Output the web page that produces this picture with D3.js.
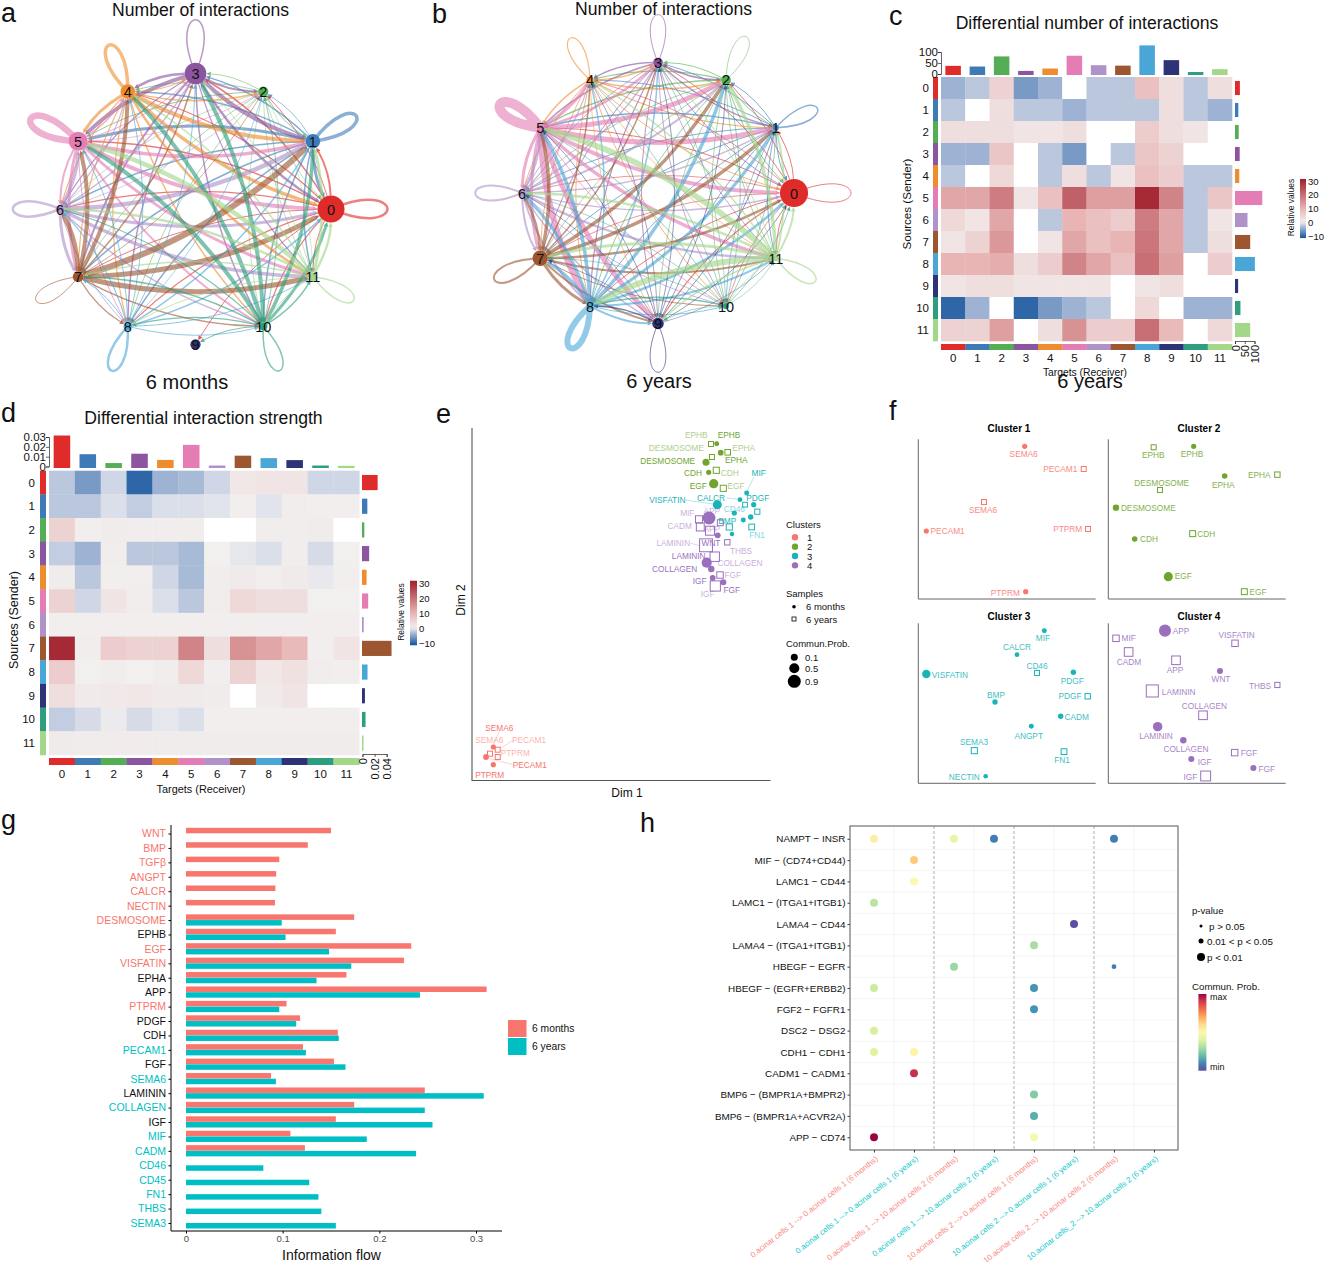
<!DOCTYPE html>
<html><head><meta charset="utf-8">
<script src="https://cdn.jsdelivr.net/npm/d3@7/dist/d3.min.js"></script>
<style>html,body{margin:0;padding:0;background:#fff}svg{display:block}text{font-family:"Liberation Sans",Arial,sans-serif;fill:#111}</style>
</head><body>
<svg id="fig" width="1331" height="1262"></svg>
<script>
// ---------- shared categories ----------
const cellTypes = ["0","1","2","3","4","5","6","7","8","9","10","11"];
const cellColors = ["#E02B2B","#3E7BB6","#55AE55","#8B559F","#EE8D2E","#E47DB4","#AF92C8","#9C5731","#4BA6D8","#2E3378","#2E9E7E","#A3D78A"];

// ---------- panels a, b : interaction weights (row = sender, col = receiver) ----------
const weightsA = [
 [2.5,2,1,1.5,1.2,1.5,1.2,1,1.2,1,1.2,1],
 [3,3.5,.8,1.5,1.5,3,1.5,1.5,1.5,0,1.5,1.5],
 [.6,1,0,.8,.8,1,.6,.8,.8,0,.6,.6],
 [2.5,4,2,1.5,2.5,4,1.2,2,1.5,0,1.5,1.2],
 [3.5,4,1.5,1,3.5,3,1.2,1.2,1.2,0,1.5,2.5],
 [4,3.5,.8,1,1.5,6.5,2,3,1,0,2,3],
 [3,4.5,.8,1.5,1.2,3.5,2.5,3,1,0,1.5,3.5],
 [5,6,.8,1.5,4,4,4.5,1,1.2,0,1.5,5],
 [1.5,1.5,.8,1,1,1,1.2,1,2.5,0,1,1],
 [0,0,0,0,0,0,0,0,0,0,0,0],
 [3,3.5,.8,4,4,4,1.2,1.5,1.2,1,1.5,1.5],
 [2.5,3,.8,1,1.5,4.5,2.5,1.5,1,0,1,1.5]];
const weightsB = [
 [1,1,1,1,.8,1,.8,.8,1,1.2,.8,1],
 [1,1.5,1,1,1,1.5,1,1,1,1,.8,1],
 [1,1,.8,1,1.2,1.5,.8,.8,1,.8,.8,.8],
 [1,1.5,1.5,1,1.5,1.5,.8,1,1.2,1,.8,.8],
 [1,1.2,1.5,1.2,1.2,1.5,1,1,1,.8,1,.8],
 [4,5,5,2.5,3,10,3,3,6,5,1,3.5],
 [1.5,1.5,2,1.5,1.2,3,2,2,2,1.5,1,2.5],
 [2.5,3.5,3.5,1.5,1.5,3.5,2.5,2,3,2,1,2],
 [2.5,3,3.5,1.5,1.5,3.5,3,3,6,2,1,2],
 [.8,.8,.8,.8,.7,.8,.7,.7,1.5,1,0,.6],
 [.8,.8,.8,.7,.7,.8,.7,.7,1.5,.7,0,.6],
 [2,2,3.5,1,1.5,6,2.5,3,6,1.5,.8,1.5]];
const nodeSizeA = [100,54,38,80,54,70,31,40,31,38,31,31];
const nodeSizeB = [104,22,36,36,25,25,28,57,25,43,22,22];

// ---------- panel c : differential number ----------
const diffNumber = [
 [-4,-2.5,5,-6,-4,null,-2.5,-2.5,8,3,-2.5,3],
 [-2.5,null,3,-2.5,-2.5,-4,-2.5,-2.5,-2.5,3,-2.5,-4],
 [3,3,3,2,2,3,null,null,6,3,2,null],
 [-4,-4,7,null,-2.5,-6,null,-2.5,7,5,null,null],
 [-2.5,null,4,null,-2.5,3,-2.5,2,8,6,-2.5,-2.5],
 [12,12,18,2,8,22,13,13,30,17,-2.5,7],
 [4,2,12,null,-2.5,10,8,6,18,12,-2.5,2],
 [2,5,14,null,2,12,8,10,19,12,-2.5,3],
 [10,10,11,3,6,17,12,8,20,13,null,6],
 [2,3,3,2,2,2,2,null,2,3,null,null],
 [-10,-4,null,-10,-6,-4,-2.5,null,4,null,-4,-4],
 [5,5,13,null,3,15,6,6,20,9,null,4]];
const numberTop = [37,34,80,14,25,83,40,38,130,63,9,22];
const numberRight = [25,17,19,24,22,140,64,78,102,16,28,78];

// ---------- panel d : differential strength ----------
const diffStrength = [
 [-2.5,-6,-1.5,-10,-4,-3.5,-1.5,1.5,2,2,-1.5,-1.5],
 [-2.5,-2.5,-1,-2,-1,-1,-.7,.3,-.7,.5,.3,.3],
 [5,.4,.7,.5,.5,.5,null,null,.5,.5,.7,null],
 [-2,-4,.5,-2.5,-2.5,-3.5,.2,-.5,-1,.5,-1.2,.2],
 [.7,-2.5,.4,.4,-1.5,-3.5,.5,1,.4,1,-.4,.3],
 [5,-1.5,2,.5,-1,-2.5,.5,4,3,3,.2,.1],
 [.4,.3,.4,.4,.4,.4,.4,.4,.4,.4,.4,.4],
 [30,.5,6,5,5,17,3,15,12,9,.3,2],
 [6,.2,.5,.2,.5,4,.3,5,1.5,2.5,.5,.3],
 [3,1,1.2,1.5,1,1,.7,null,1,2,null,null],
 [-2,-1.2,-.3,-1.2,-.5,-1,.3,.3,.3,.3,.3,.3],
 [1,.7,.8,.8,.6,.6,.6,.6,.6,.6,.6,.6]];
const strengthTop = [.0315,.0125,.0035,.013,.0067,.022,.001,.011,.0085,.0065,.001,.0007];
const strengthRight = [.025,.008,.003,.011,.0067,.0094,.002,.048,.0083,.004,.005,.0017];

// ---------- panel e : [signaling, cluster, sample(m/y), prob, dim1, dim2] ----------
const ePoints = [
 ["SEMA6",1,"m",.13,21.3,33],["PECAM1",1,"m",.16,14,23],["PTPRM",1,"m",.13,21.3,15.3],
 ["PECAM1",1,"y",.12,25.7,30.3],["SEMA6",1,"y",.12,18,26.3],["PTPRM",1,"y",.12,25.7,23],
 ["EPHB",2,"m",.12,244.7,336.3],["EPHA",2,"m",.16,248.7,327.3],["DESMOSOME",2,"m",.24,234,317.7],["CDH",2,"m",.13,236.7,307.7],["EGF",2,"m",.42,241.7,296.3],
 ["EPHB",2,"y",.12,239,336],["EPHA",2,"y",.15,255.7,327.7],["DESMOSOME",2,"y",.12,240,323],["CDH",2,"y",.18,244.3,309.7],["EGF",2,"y",.18,251.3,291.7],
 ["VISFATIN",3,"m",.39,245.3,275.3],["MIF",3,"m",.12,274.7,287],["CALCR",3,"m",.11,268,280.3],["PDGF",3,"m",.13,281.7,275.3],["BMP",3,"m",.13,262.3,267],["CADM",3,"m",.14,278.7,263],["ANGPT",3,"m",.12,271.3,260],["NECTIN",3,"m",.1,260,246],
 ["CD46",3,"y",.11,273,275.3],["PDGF",3,"y",.13,285.3,268.3],["FN1",3,"y",.16,279.7,253],["SEMA3",3,"y",.18,257.3,253],
 ["APP",4,"m",.8,237,262],["WNT",4,"m",.16,245.7,244.7],["LAMININ",4,"m",.5,234.7,217.3],["COLLAGEN",4,"m",.2,239.3,211],["IGF",4,"m",.16,240.7,202],["FGF",4,"m",.18,251.3,197.7],
 ["MIF",4,"y",.24,227,260.7],["CADM",4,"y",.3,228.3,253],["APP",4,"y",.39,238,249.3],["VISFATIN",4,"y",.17,248.3,257.3],["LAMININ",4,"y",.8,234,234.7],["THBS",4,"y",.14,255.3,237.7],["COLLAGEN",4,"y",.43,242.7,223.3],["FGF",4,"y",.2,248,205],["IGF",4,"y",.5,243.3,194]];
// e labels: [text, cluster, faded, dim1, dim2]
const eLabels = [
 ["EPHB",2,1,224.3,344.7],["EPHB",2,0,257,345],["EPHA",2,1,271.7,332.3],["EPHA",2,0,264.3,320],["DESMOSOME",2,1,204.3,331.7],["DESMOSOME",2,0,195.7,319.3],["CDH",2,0,221,307.3],["CDH",2,1,257.7,307.3],["EGF",2,0,226.3,294.3],["EGF",2,1,264,294.3],
 ["VISFATIN",3,0,195.3,280],["CALCR",3,0,239,282],["MIF",3,0,286.7,307.3],["PDGF",3,0,285.7,281.7],["CD46",3,1,262.3,270.7],["BMP",3,0,255.3,259],["FN1",3,1,285,245],
 ["MIF",4,1,215.3,267.3],["CADM",4,1,207.7,254.3],["APP",4,1,239.7,269.3],["APP",4,1,239.7,251],["WNT",4,0,239,237.3],["LAMININ",4,1,201.3,236.7],["LAMININ",4,0,216.7,224],["COLLAGEN",4,0,202.7,211],["COLLAGEN",4,1,268,217],["THBS",4,1,269,229.3],["IGF",4,0,227.7,198.7],["IGF",4,1,235.7,186.3],["FGF",4,1,260.7,204.7],["FGF",4,0,259.7,190],
 ["SEMA6",1,0,27.3,52],["SEMA6",1,1,17.3,39.7],["PECAM1",1,1,57,39.7],["PTPRM",1,1,43.3,27],["PECAM1",1,0,57.7,14.7],["PTPRM",1,0,17.7,5]];
const eLeaders = [[3,213,280,245,275.5],[3,255,282,267,280.5],[3,282,303,275,289],[4,218.7,236.7,228,234.3],[1,27.3,48.3,21.3,35],[1,40.7,39.7,28,31],[1,41.3,15.3,16.3,21.7]];
const clusterNames = ["1","2","3","4"];
const clusterColors = ["#F8766D","#6FA52F","#19B4B8","#9A6FBE"];

// ---------- panel f : [signaling, sample, prob, dim1, dim2] in each cluster embedding ----------
const fCluster1 = [["SEMA6","m",.13,404,139],["PECAM1","m",.13,109,393],["PTPRM","m",.13,407,575],["PECAM1","y",.12,581,207],["SEMA6","y",.12,282,306],["PTPRM","y",.12,594,387]];
const fCluster2 = [["EPHB","m",.13,911,139],["EPHA","m",.15,1004,228],["DESMOSOME","m",.2,678,323],["CDH","m",.15,734,417],["EGF","m",.4,835,530],["EPHB","y",.12,791,142],["EPHA","y",.14,1162,224],["DESMOSOME","y",.12,810,270],["CDH","y",.17,908,401],["EGF","y",.17,1063,575]];
const fCluster3 = [["MIF","m",.12,463,692],["CALCR","m",.11,381,764],["VISFATIN","m",.34,109,822],["PDGF","m",.14,550,817],["BMP","m",.14,315,906],["CADM","m",.14,512,949],["ANGPT","m",.12,424,979],["NECTIN","m",.1,287,1129],["CD46","y",.12,441,819],["PDGF","y",.14,593,889],["SEMA3","y",.18,253,1052],["FN1","y",.16,522,1055]];
const fCluster4 = [["APP","m",.7,825,692],["WNT","m",.18,990,813],["LAMININ","m",.43,803,980],["COLLAGEN","m",.2,880,1021],["IGF","m",.18,904,1077],["FGF","m",.18,1090,1104],["MIF","y",.2,678,715],["CADM","y",.36,716,756],["VISFATIN","y",.2,1035,730],["APP","y",.36,858,781],["THBS","y",.13,1162,855],["LAMININ","y",.7,787,873],["COLLAGEN","y",.36,939,946],["FGF","y",.2,1034,1058],["IGF","y",.47,947,1128]];
const fLabels1 = [["SEMA6",401,162],["PECAM1",511,207],["SEMA6",279,329],["PECAM1",173,393],["PTPRM",533,388],["PTPRM",346,579]];
const fLabels2 = [["EPHB",790,166],["EPHB",906,162],["DESMOSOME",815,248],["EPHA",1108,226],["EPHA",1000,254],["DESMOSOME",775,323],["CDH",777,418],["CDH",949,402],["EGF",880,529],["EGF",1104,575]];
const fLabels3 = [["MIF",459,715],["CALCR",381,741],["CD46",441,797],["VISFATIN",180,826],["PDGF",547,842],["PDGF",540,889],["BMP",318,884],["CADM",560,952],["ANGPT",416,1008],["SEMA3",252,1026],["FN1",516,1081],["NECTIN",223,1132]];
const fLabels4 = [["APP",873,694],["MIF",716,714],["VISFATIN",1040,706],["CADM",717,786],["APP",855,811],["WNT",993,838],["LAMININ",866,876],["THBS",1110,857],["COLLAGEN",943,918],["LAMININ",798,1007],["COLLAGEN",888,1047],["FGF",1077,1058],["IGF",944,1085],["FGF",1130,1106],["IGF",901,1132]];

// ---------- panel g ----------
const flowNames = ["WNT","BMP","TGFβ","ANGPT","CALCR","NECTIN","DESMOSOME","EPHB","EGF","VISFATIN","EPHA","APP","PTPRM","PDGF","CDH","PECAM1","FGF","SEMA6","LAMININ","COLLAGEN","IGF","MIF","CADM","CD46","CD45","FN1","THBS","SEMA3"];
const flowMonths = [.150,.126,.0965,.0933,.0925,.092,.174,.155,.233,.2255,.166,.311,.104,.118,.157,.121,.153,.088,.247,.174,.155,.108,.123,0,0,0,0,0];
const flowYears = [0,0,0,0,0,0,.099,.103,.148,.171,.135,.242,.0965,.114,.158,.124,.165,.093,.308,.247,.255,.187,.238,.080,.1275,.137,.14,.155];
const flowNameGroup = ["m","m","m","m","m","m","m","k","m","m","k","k","m","k","k","y","k","y","k","y","k","y","y","y","y","y","y","y"];
const flowTicks = [0,.1,.2,.3];

// ---------- panel h ----------
const pairNames = ["NAMPT − INSR","MIF − (CD74+CD44)","LAMC1 − CD44","LAMC1 − (ITGA1+ITGB1)","LAMA4 − CD44","LAMA4 − (ITGA1+ITGB1)","HBEGF − EGFR","HBEGF − (EGFR+ERBB2)","FGF2 − FGFR1","DSC2 − DSG2","CDH1 − CDH1","CADM1 − CADM1","BMP6 − (BMPR1A+BMPR2)","BMP6 − (BMPR1A+ACVR2A)","APP − CD74"];
const commNames = ["0.acinar cells 1 --> 0.acinar cells 1 (6 months)","0.acinar cells 1 --> 0.acinar cells 1 (6 years)","0.acinar cells 1 --> 10.acinar cells 2 (6 months)","0.acinar cells 1 --> 10.acinar cells 2 (6 years)","10.acinar cells 2 --> 0.acinar cells 1 (6 months)","10.acinar cells 2 --> 0.acinar cells 1 (6 years)","10.acinar cells 2 --> 10.acinar cells 2 (6 months)","10.acinar cells_2 --> 10.acinar cells 2 (6 years)"];
// [pair index, communication index, probability 0-1, p class 2=p<0.01, 0=p>0.05]
const commDots = [[0,0,.55,2],[0,2,.42,2],[0,3,.08,2],[0,6,.08,2],[1,1,.64,2],[2,1,.50,2],[3,0,.33,2],[4,5,.0,2],[5,4,.3,2],[6,2,.28,2],[6,6,.08,0],[7,0,.36,2],[7,4,.12,2],[8,4,.12,2],[9,0,.38,2],[10,0,.4,2],[10,1,.53,2],[11,1,.92,2],[12,4,.24,2],[13,4,.17,2],[14,0,1,2],[14,4,.46,2]];
const pClassLabels = ["p > 0.05","0.01 < p < 0.05","p < 0.01"];

// ================================= drawing =================================
const svg = d3.select("#fig");
svg.append("rect").attr("width",1331).attr("height",1262).attr("fill","#fff");
function txt(g,s,x,y,size,opt={}){
  const t=g.append("text").attr("x",x).attr("y",y).attr("font-size",size).attr("text-anchor",opt.anchor||"middle")
    .attr("dominant-baseline",opt.base||"auto").text(s);
  if(opt.fill) t.style("fill",opt.fill);
  if(opt.weight) t.attr("font-weight",opt.weight);
  if(opt.opacity!=null) t.attr("opacity",opt.opacity);
  if(opt.rotate!=null) t.attr("transform",`rotate(${opt.rotate},${x},${y})`);
  return t;
}
const letters=[["a",1,22],["b",432,23],["c",889,25],["d",1,422],["e",436,423],["f",889,420],["g",1,829],["h",640,832]];
letters.forEach(l=>txt(svg,l[0],l[1],l[2],27,{anchor:"start"}));

// --- networks ---
function network(cfg){
  const g=svg.append("g");
  const sx=d3.scaleLinear().domain([-1,1]).range([cfg.cx-cfg.rx,cfg.cx+cfg.rx]);
  const sy=d3.scaleLinear().domain([-1,1]).range([cfg.cy+cfg.ry,cfg.cy-cfg.ry]);
  const rScale=d3.scaleLinear().domain([0,100]).range([0,13.5]);
  const wScale=d3.scaleLinear().domain([0,10]).range([0,10]);
  const nodes=cellTypes.map((c,i)=>{const a=i*Math.PI/6;return{i,c,x:sx(Math.cos(a)),y:sy(Math.sin(a)),r:rScale(cfg.size[i])};});
  const edges=[];
  cfg.w.forEach((row,i)=>row.forEach((v,j)=>{if(v>0)edges.push({i,j,v});}));
  edges.forEach(e=>{
    const s=nodes[e.i],t=nodes[e.j],col=cellColors[e.i],w=wScale(e.v);
    if(e.i===e.j){
      const a=cfg.loop[e.i]*Math.PI/180,tip=43+s.r,d=tip/0.75,h=cfg.loopW*d;
      const ux=Math.cos(a),uy=Math.sin(a),px=-uy,py=ux;
      g.append("path").attr("d",`M${s.x},${s.y}C${s.x+ux*d+px*h},${s.y+uy*d+py*h} ${s.x+ux*d-px*h},${s.y+uy*d-py*h} ${s.x},${s.y}`)
        .attr("fill","none").attr("stroke",col).attr("stroke-width",w).attr("stroke-opacity",.6);
      return;
    }
    const dx=t.x-s.x,dy=t.y-s.y;
    const mx=(s.x+t.x)/2-dy*.12,my=(s.y+t.y)/2+dx*.12;
    const end=(n,o,extra)=>{const ax=o[0]-n.x,ay=o[1]-n.y,l=Math.hypot(ax,ay);return[n.x+ax/l*(n.r+extra),n.y+ay/l*(n.r+extra)];};
    const a0=end(s,[mx,my],0),tip=end(t,[mx,my],0),base=end(t,[mx,my],4.5);
    g.append("path").attr("d",`M${a0[0]},${a0[1]}Q${mx},${my} ${base[0]},${base[1]}`)
      .attr("fill","none").attr("stroke",col).attr("stroke-width",w).attr("stroke-opacity",.62);
    const ux=(tip[0]-base[0])/4.5,uy=(tip[1]-base[1])/4.5;
    g.append("path").attr("d",`M${tip[0]},${tip[1]}L${base[0]-uy*2.2},${base[1]+ux*2.2}L${base[0]+uy*2.2},${base[1]-ux*2.2}Z`)
      .attr("fill",col).attr("fill-opacity",.8);
  });
  g.selectAll(".n").data(nodes).enter().append("circle").attr("cx",d=>d.x).attr("cy",d=>d.y).attr("r",d=>d.r).attr("fill",d=>cellColors[d.i]);
  g.selectAll(".l").data(nodes).enter().append("text").attr("x",d=>d.x).attr("y",d=>d.y+.5).attr("text-anchor","middle").attr("dominant-baseline","central").attr("font-size",14.5).text(d=>d.c);
  txt(svg,cfg.title,cfg.tx,cfg.ty,17.6);
  txt(svg,cfg.sub,cfg.sx,cfg.sy,20);
}
network({w:weightsA,size:nodeSizeA,cx:195.5,cy:209,rx:135.5,ry:135.5,loopW:.42,loop:[0,-30,-60,-90,-112,-155,180,150,110,90,70,30],title:"Number of interactions",tx:200.5,ty:16,sub:"6 months",sx:187,sy:389});
network({w:weightsB,size:nodeSizeB,cx:658,cy:193,rx:136,ry:130.5,loopW:.42,loop:[0,-25,-65,-90,-115,-150,180,155,115,90,60,30],title:"Number of interactions",tx:663.5,ty:15,sub:"6 years",sx:659,sy:388});

// --- heatmaps ---
const heatColor=d3.scaleLinear().domain([-10,-2,0,10,30]).range(["#2E66A8","#C3CDE1","#F2F0F0","#E8B4B4","#A52A35"]);
function heatmap(c){
  const g=svg.append("g");
  const x=d3.scaleBand().domain(cellTypes).range([c.x0,c.x1]);
  const y=d3.scaleBand().domain(cellTypes).range([c.y0,c.y1]);
  c.m.forEach((row,i)=>row.forEach((v,j)=>{
    g.append("rect").attr("x",x(cellTypes[j])).attr("y",y(cellTypes[i])).attr("width",x.bandwidth()+.3).attr("height",y.bandwidth()+.3)
     .attr("fill",v==null?"#fff":heatColor(v));
  }));
  cellTypes.forEach((t,i)=>{
    g.append("rect").attr("x",c.leftBar[0]).attr("width",c.leftBar[1]-c.leftBar[0]).attr("y",y(t)).attr("height",y.bandwidth()+.3).attr("fill",cellColors[i]);
    g.append("rect").attr("y",c.botBar[0]).attr("height",c.botBar[1]-c.botBar[0]).attr("x",x(t)).attr("width",x.bandwidth()+.3).attr("fill",cellColors[i]);
    txt(g,t,c.leftLab,y(t)+y.bandwidth()/2,11.5,{anchor:"end",base:"central"});
    txt(g,t,x(t)+x.bandwidth()/2,c.botLab,11.5);
  });
  // top bars
  const ty=d3.scaleLinear().domain(c.topDomain).range(c.topRange);
  const xi=d3.scaleBand().domain(cellTypes).range([c.x0,c.x1]).paddingInner(.36).paddingOuter(.18);
  g.selectAll(".tb").data(c.top).enter().append("rect").attr("x",(d,i)=>xi(cellTypes[i])).attr("width",xi.bandwidth())
    .attr("y",d=>ty(d)).attr("height",d=>c.topBase-ty(d)).attr("fill",(d,i)=>cellColors[i]);
  const ta=g.append("g").attr("transform",`translate(${c.x0},0)`).call(d3.axisLeft(ty).tickValues(c.topTicks).tickSize(3).tickPadding(0).tickFormat(d=>d));
  ta.selectAll("text").attr("font-size",11.5).style("fill","#111");
  ta.selectAll("path,line").attr("stroke","#222").attr("stroke-width",.7);
  // right bars
  const rx=d3.scaleLinear().domain(c.rightDomain).range(c.rightRange);
  const yi=d3.scaleBand().domain(cellTypes).range([c.y0,c.y1]).paddingInner(.36).paddingOuter(.18);
  g.selectAll(".rb").data(c.right).enter().append("rect").attr("y",(d,i)=>yi(cellTypes[i])).attr("height",yi.bandwidth())
    .attr("x",c.rightBase).attr("width",d=>rx(d)-c.rightBase).attr("fill",(d,i)=>cellColors[i]);
  const ra=g.append("g").attr("transform",`translate(0,${c.rightAxisY})`).call(d3.axisBottom(rx).tickValues(c.rightTicks).tickSize(3).tickPadding(0).tickFormat(d=>d));
  ra.selectAll("text").attr("font-size",11).style("fill","#111").attr("text-anchor","end").attr("dominant-baseline","central").attr("dy",0)
    .attr("transform","rotate(-90)").attr("x",-4).attr("y",0);
  ra.selectAll("path,line").attr("stroke","#222").attr("stroke-width",.7);
  // legend
  const ly=d3.scaleLinear().domain([-10,30]).range(c.legY);
  const defsId="h"+c.id;
  const grad=svg.append("defs").append("linearGradient").attr("id",defsId).attr("x1",0).attr("x2",0).attr("y1",1).attr("y2",0);
  d3.range(0,1.01,.05).forEach(f=>grad.append("stop").attr("offset",f).attr("stop-color",heatColor(-11.5+f*43)));
  g.append("rect").attr("x",c.legX[0]).attr("width",c.legX[1]-c.legX[0]).attr("y",ly(31.5)).attr("height",ly(-11.5)-ly(31.5)).attr("fill",`url(#${defsId})`);
  [30,20,10,0,-10].forEach(v=>txt(g,v<0?"−10":v,c.legX[1]+2,ly(v),9.5,{anchor:"start",base:"central"}));
  txt(g,"Relative values",c.legX[0]-6,(c.legY[0]+c.legY[1])/2-1,8.5,{rotate:-90});
  txt(svg,c.title,c.tx,c.ty,17.6);
  txt(g,"Sources (Sender)",c.srcX,c.srcY,c.srcF,{rotate:-90});
  txt(g,"Targets (Receiver)",c.tarX,c.tarY,c.tarF);
}
heatmap({id:"c",m:diffNumber,x0:941,x1:1232,y0:77,y1:341,leftBar:[933,938],botBar:[344,350],leftLab:929,botLab:362,
  top:numberTop,topDomain:[0,100],topRange:[74,52],topBase:75,topTicks:[0,50,100],
  right:numberRight,rightDomain:[0,100],rightRange:[1235,1254.5],rightBase:1235,rightTicks:[0,50,100],rightAxisY:341,
  legX:[1300,1306],legY:[236,181],title:"Differential number of interactions",tx:1087,ty:29,srcX:911,srcY:204,srcF:11.6,tarX:1085,tarY:376,tarF:10.3});
heatmap({id:"d",m:diffStrength,x0:49,x1:359.3,y0:470.7,y1:755,leftBar:[40,46],botBar:[758,765],leftLab:35,botLab:778,
  top:strengthTop,topDomain:[0,.03],topRange:[466.5,437],topBase:468,topTicks:[0,.01,.02,.03],
  right:strengthRight,rightDomain:[0,.04],rightRange:[362.5,386.7],rightBase:362,rightTicks:[0,.02,.04],rightAxisY:754,
  legX:[410,417],legY:[643,583],title:"Differential interaction strength",tx:203.5,ty:424,srcX:18,srcY:620,srcF:12.5,tarX:201,tarY:793,tarF:10.9});
txt(svg,"6 years",1090,388,20);

// --- panel e ---
const pointR=d3.scaleSqrt().domain([0,1]).range([0,7.2]);
function mark(g,x,y,sample,p,col){
  const r=pointR(p);
  if(sample==="m") g.append("circle").attr("cx",x).attr("cy",y).attr("r",r).attr("fill",col);
  else g.append("rect").attr("x",x-r).attr("y",y-r).attr("width",2*r).attr("height",2*r).attr("fill","none").attr("stroke",col).attr("stroke-width",1);
}
(function(){
  const g=svg.append("g");
  const x=d3.scaleLinear().domain([0,298]).range([472,770]);
  const y=d3.scaleLinear().domain([0,352]).range([780,428]);
  g.append("path").attr("d",`M472,428V780.5H770.5`).attr("fill","none").attr("stroke","#555").attr("stroke-width",1.1);
  txt(g,"Dim 2",465,600,12,{rotate:-90});
  txt(g,"Dim 1",627,797,12);
  eLeaders.forEach(l=>g.append("line").attr("x1",x(l[1])).attr("y1",y(l[2])).attr("x2",x(l[3])).attr("y2",y(l[4])).attr("stroke",clusterColors[l[0]-1]).attr("stroke-opacity",.45).attr("stroke-width",.7));
  ePoints.forEach(p=>mark(g,x(p[4]),y(p[5]),p[2],p[3],clusterColors[p[1]-1]));
  eLabels.forEach(l=>txt(g,l[0],x(l[3]),y(l[4]),8.3,{base:"central",fill:clusterColors[l[1]-1],opacity:l[2]?.55:1}));
  // legends
  txt(g,"Clusters",786,528,9.5,{anchor:"start"});
  clusterNames.forEach((n,i)=>{
    const yy=537.3+i*9.35;
    g.append("circle").attr("cx",795).attr("cy",yy).attr("r",3.2).attr("fill",clusterColors[i]);
    txt(g,n,807,yy,9.5,{anchor:"start",base:"central"});
  });
  txt(g,"Samples",786,597,9.5,{anchor:"start"});
  g.append("circle").attr("cx",794).attr("cy",606.7).attr("r",1.8).attr("fill","#000");
  txt(g,"6 months",806,606.7,9.5,{anchor:"start",base:"central"});
  g.append("rect").attr("x",792).attr("y",617).attr("width",4).attr("height",4).attr("fill","none").attr("stroke","#000").attr("stroke-width",.8);
  txt(g,"6 years",806,619,9.5,{anchor:"start",base:"central"});
  txt(g,"Commun.Prob.",786,647,9.5,{anchor:"start"});
  const lr=d3.scaleLinear().domain([.1,.9]).range([3.5,6.5]);
  [[.1,657.3],[.5,668.3],[.9,681.3]].forEach(a=>{
    g.append("circle").attr("cx",794.3).attr("cy",a[1]).attr("r",lr(a[0])).attr("fill","#000");
    txt(g,a[0],805,a[1],9.5,{anchor:"start",base:"central"});
  });
})();

// --- panel f ---
const fPanels=[
 {t:"Cluster 1",k:0,d:fCluster1,l:fLabels1,xd:[85,617],yd:[597,118],xr:[918.3,1095.7],yr:[599,439.3],ty:431.5},
 {t:"Cluster 2",k:1,d:fCluster2,l:fLabels2,xd:[655,1187],yd:[597,118],xr:[1108.3,1285.7],yr:[599,439.3],ty:431.5},
 {t:"Cluster 3",k:2,d:fCluster3,l:fLabels3,xd:[85,617],yd:[1150,670],xr:[918.3,1095.7],yr:[783.3,623.3],ty:619.5},
 {t:"Cluster 4",k:3,d:fCluster4,l:fLabels4,xd:[655,1187],yd:[1150,670],xr:[1108.3,1285.7],yr:[783.3,623.3],ty:619.5}];
fPanels.forEach(p=>{
  const g=svg.append("g");
  const x=d3.scaleLinear().domain(p.xd).range(p.xr),y=d3.scaleLinear().domain(p.yd).range(p.yr);
  g.append("path").attr("d",`M${p.xr[0]},${p.yr[1]}V${p.yr[0]}H${p.xr[1]}`).attr("fill","none").attr("stroke","#666").attr("stroke-width",1);
  txt(g,p.t,(p.xr[0]+p.xr[1])/2+2,p.ty,10,{weight:"bold",fill:"#000"});
  p.d.forEach(a=>mark(g,x(a[3]),y(a[4]),a[1],a[2],clusterColors[p.k]));
  p.l.forEach(a=>txt(g,a[0],x(a[1]),y(a[2]),8.3,{base:"central",fill:clusterColors[p.k],opacity:.85}));
});

// --- panel g ---
(function(){
  const g=svg.append("g");
  const x=d3.scaleLinear().domain([0,.3]).range([186,476]);
  const y=d3.scalePoint().domain(flowNames).range([833.5,1223]);
  const inner=d3.scaleBand().domain(["m","y"]).range([-5.7,5.7]);
  const bar=(vals,key,col)=>g.selectAll(".b"+key).data(flowNames).enter().filter((d,i)=>vals[i]>0).append("rect")
     .attr("x",x(0)).attr("y",d=>y(d)+inner(key)).attr("height",inner.bandwidth()-.2)
     .attr("width",d=>x(vals[flowNames.indexOf(d)])-x(0)).attr("fill",col);
  bar(flowMonths,"m","#F8766D"); bar(flowYears,"y","#00BFC4");
  const ax=g.append("g").attr("transform","translate(0,1231)").call(d3.axisBottom(x).tickValues(flowTicks).tickSize(2.5).tickPadding(2).tickFormat(d=>d));
  ax.select(".domain").attr("d","M171,0H502").attr("stroke","#000").attr("stroke-width",1);
  ax.selectAll("text").attr("font-size",9.5).style("fill","#4d4d4d");
  const ay=g.append("g").attr("transform","translate(171,0)").call(d3.axisLeft(y).tickSize(2.5).tickPadding(2.5));
  ay.select(".domain").attr("d","M0,825V1231").attr("stroke","#000").attr("stroke-width",1);
  const cm={m:"#F8766D",y:"#00BFC4",k:"#111"};
  ay.selectAll("text").attr("font-size",10.5).style("fill",(d,i)=>cm[flowNameGroup[i]]);
  txt(g,"Information flow",331.5,1260,14);
  [["6 months","#F8766D",1020],["6 years","#00BFC4",1038]].forEach(a=>{
    g.append("rect").attr("x",508).attr("y",a[2]).attr("width",18.5).attr("height",17).attr("fill",a[1]);
    txt(g,a[0],532,a[2]+8.5,10.3,{anchor:"start",base:"central"});
  });
})();

// --- panel h ---
(function(){
  const g=svg.append("g");
  const L=850,R=1178;
  const x=d3.scalePoint().domain(commNames).range([L,R]).padding(.6);
  const y=d3.scalePoint().domain(pairNames).range([826,1150]).padding(.6);
  const sx=x.step(),sy=y.step();
  commNames.forEach((n,i)=>{
    const dashed=i%2===1;
    if(i<7) g.append("line").attr("x1",x(n)+sx/2).attr("x2",x(n)+sx/2).attr("y1",826).attr("y2",1150)
      .attr("stroke",dashed?"#999":"#eeeeee").attr("stroke-width",dashed?.8:.6).attr("stroke-dasharray",dashed?"3,2":null);
  });
  pairNames.forEach((n,i)=>{ if(i<14) g.append("line").attr("x1",L).attr("x2",R).attr("y1",y(n)+sy/2).attr("y2",y(n)+sy/2).attr("stroke","#eeeeee").attr("stroke-width",.6); });
  const dotR=[2.4,3,4];
  commDots.forEach(d=>g.append("circle").attr("cx",x(commNames[d[1]])).attr("cy",y(pairNames[d[0]])).attr("r",dotR[d[3]]).attr("fill",d3.interpolateSpectral(1-d[2])));
  g.append("rect").attr("x",L).attr("y",826).attr("width",R-L).attr("height",324).attr("fill","none").attr("stroke","#555").attr("stroke-width",1);
  const ax=g.append("g").attr("transform","translate(0,1150)").call(d3.axisBottom(x).tickSize(2.5).tickFormat(""));
  ax.select(".domain").remove(); ax.selectAll("line").attr("stroke","#444");
  const ay=g.append("g").attr("transform",`translate(${L},0)`).call(d3.axisLeft(y).tickSize(2.5).tickPadding(2));
  ay.select(".domain").remove(); ay.selectAll("line").attr("stroke","#444");
  ay.selectAll("text").attr("font-size",9.9).style("fill","#111");
  commNames.forEach((n,i)=>txt(g,n,x(n)+3,1158,7.9,{anchor:"end",base:"central",fill:i%2?"#14C8CC":"#F98980",rotate:-38}));
  txt(g,"p-value",1192,914,9.6,{anchor:"start"});
  [[926,1.5,1209],[941,2.5,1207],[957,4,1207]].forEach((a,i)=>{
    g.append("circle").attr("cx",1201).attr("cy",a[0]).attr("r",a[1]).attr("fill","#000");
    txt(g,pClassLabels[i],a[2],a[0],9.8,{anchor:"start",base:"central"});
  });
  txt(g,"Commun. Prob.",1192,990,9.7,{anchor:"start"});
  const grad=svg.append("defs").append("linearGradient").attr("id","spec").attr("x1",0).attr("x2",0).attr("y1",1).attr("y2",0);
  d3.range(0,1.01,.1).forEach(f=>grad.append("stop").attr("offset",f).attr("stop-color",d3.interpolateSpectral(1-f)));
  g.append("rect").attr("x",1198.4).attr("y",994).attr("width",8).attr("height",76.7).attr("fill","url(#spec)");
  txt(g,"max",1210,997,9,{anchor:"start",base:"central"});
  txt(g,"min",1210,1067,9,{anchor:"start",base:"central"});
})();
</script>
</body></html>
